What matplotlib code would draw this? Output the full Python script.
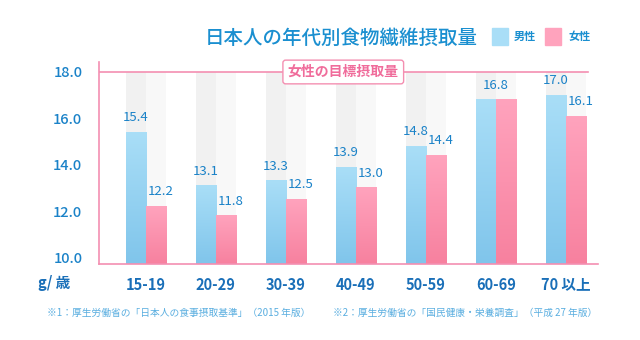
import numpy as np
import matplotlib.pyplot as plt
from matplotlib.colors import LinearSegmentedColormap

plt.rcParams['font.family'] = ['Noto Sans CJK JP', 'DejaVu Sans']

# data
ages = ["15-19", "20-29", "30-39", "40-49", "50-59", "60-69", "70 以上"]
male = [15.4, 13.1, 13.3, 13.9, 14.8, 16.8, 17.0]
female = [12.2, 11.8, 12.5, 13.0, 14.4, 16.8, 16.1]
target = 18.0
yticks = [10.0, 12.0, 14.0, 16.0, 18.0]

blue_txt = "#1a82c8"
pink_line = "#f48fb1"
ymin, ymax = 9.72, 18.43
w = 0.286

fig = plt.figure(figsize=(6.4, 3.4), dpi=100)
ax = fig.add_axes([0.1547, 0.2235, 0.7797, 0.5941])

cm_male = LinearSegmentedColormap.from_list("m", ["#80c5eb", "#a9def7"])
cm_fem = LinearSegmentedColormap.from_list("f", ["#f7819f", "#ffa3bd"])
grad = np.linspace(0, 1, 100).reshape(-1, 1)

x = np.arange(len(ages))
for i in x:
    # grey background columns
    ax.bar(i - w / 2, target - ymin, w, bottom=ymin, color="#f1f1f1", zorder=1)
    ax.bar(i + w / 2, target - ymin, w, bottom=ymin, color="#f8f8f8", zorder=1)
    for xc, v, cm in [(i - w / 2, male[i], cm_male), (i + w / 2, female[i], cm_fem)]:
        ax.imshow(grad, extent=[xc - w / 2, xc + w / 2, ymin, v], origin="lower",
                  aspect="auto", cmap=cm, zorder=2)
    if male[i] == female[i]:
        ax.text(i, male[i] + 0.35, f"{male[i]:.1f}", ha="center", va="bottom",
                color=blue_txt, fontsize=9.5, zorder=4)
    else:
        ax.text(i - w / 2, male[i] + 0.35, f"{male[i]:.1f}", ha="center", va="bottom",
                color=blue_txt, fontsize=9.5, zorder=4)
        ax.text(i + w / 2 + 0.07, female[i] + 0.35, f"{female[i]:.1f}", ha="center",
                va="bottom", color=blue_txt, fontsize=9.5, zorder=4)

ax.set_xlim(-0.67, 6.46)
ax.set_ylim(ymin, ymax)

# target line
ax.plot([-0.67, 6.32], [target, target], color=pink_line, lw=1.2, zorder=3)
ax.text(2.82, target, "女性の目標摂取量", ha="center", va="center", color="#f06c9b",
        fontsize=10, fontweight="bold", zorder=5,
        bbox=dict(boxstyle="round,pad=0.35,rounding_size=0.2", fc="white",
                  ec=pink_line, lw=1))

for s in ["top", "right"]:
    ax.spines[s].set_visible(False)
for s in ["left", "bottom"]:
    ax.spines[s].set_color(pink_line)
    ax.spines[s].set_linewidth(1.2)

ax.set_yticks(yticks)
ax.set_yticklabels([f"{t:.1f}" for t in yticks], color=blue_txt, fontsize=10.5)
ax.set_xticks(x)
ax.set_xticklabels(ages, color="#1a6fb8", fontsize=10.5, fontweight="bold")
ax.tick_params(axis="both", length=0)
ax.tick_params(axis="y", pad=12)
ax.tick_params(axis="x", pad=9)
for lab in ax.get_yticklabels():
    lab.set_fontweight("medium")

fig.text(0.085, 0.167, "g/ 歳", ha="center", va="center", color="#1a6fb8",
         fontsize=10.5, fontweight="bold")

# title and legend
fig.text(0.746, 0.888, "日本人の年代別食物繊維摂取量", ha="right", va="center",
         color="#1a8fd0", fontsize=14, fontweight="medium")
fig.patches.append(plt.Rectangle((0.769, 0.868), 0.025, 0.05, color="#a9def7",
                                 transform=fig.transFigure, figure=fig))
fig.text(0.802, 0.892, "男性", ha="left", va="center", color="#1a8fd0",
         fontsize=8, fontweight="bold")
fig.patches.append(plt.Rectangle((0.852, 0.868), 0.025, 0.05, color="#ffa3bd",
                                 transform=fig.transFigure, figure=fig))
fig.text(0.889, 0.892, "女性", ha="left", va="center", color="#1a8fd0",
         fontsize=8, fontweight="bold")

# footnotes
fig.text(0.073, 0.079, "※1：厚生労働省の「日本人の食事摂取基準」（2015 年版）",
         ha="left", va="center", color="#5aaee0", fontsize=7)
fig.text(0.520, 0.079, "※2：厚生労働省の「国民健康・栄養調査」（平成 27 年版）",
         ha="left", va="center", color="#5aaee0", fontsize=7)

fig.savefig("out.png", dpi=100)
